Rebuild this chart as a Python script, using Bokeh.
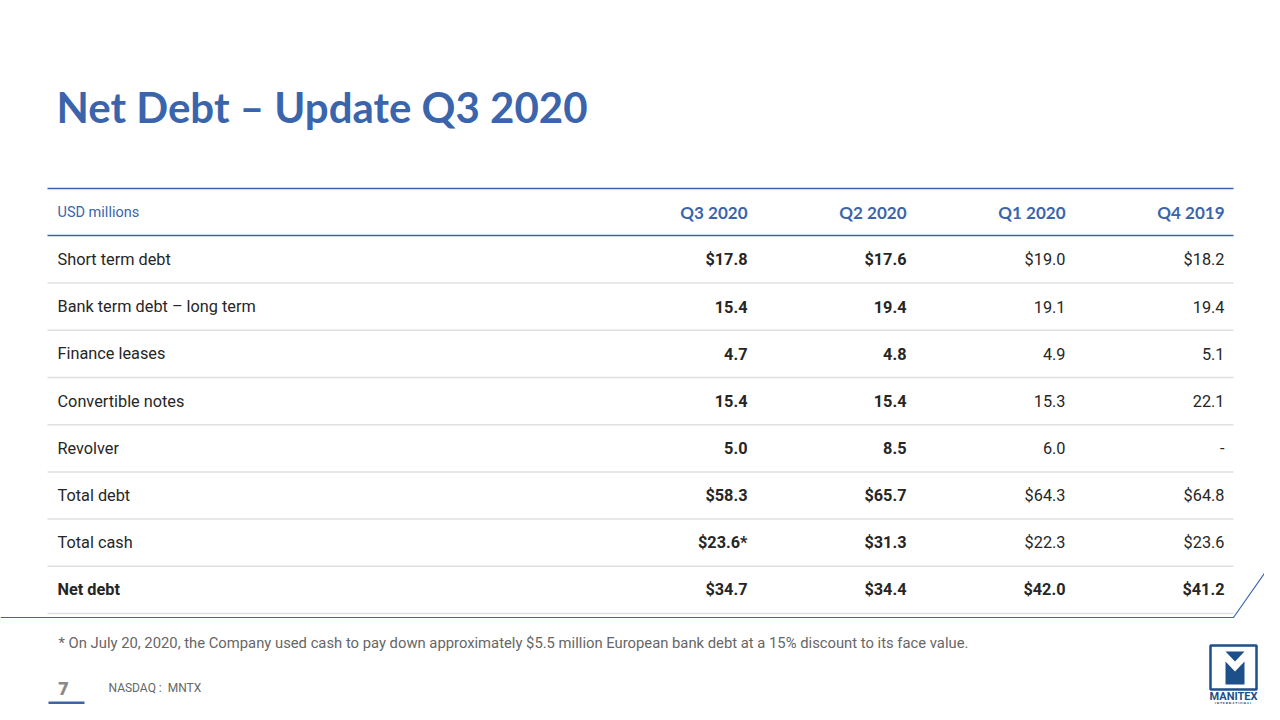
from bokeh.plotting import figure
from bokeh.models import Range1d
from bokeh.core.properties import value
from bokeh.embed import file_html
from bokeh.resources import INLINE

# ---- data ----
title = "Net Debt – Update Q3 2020"
unit_label = "USD millions"
periods = ["Q3 2020", "Q2 2020", "Q1 2020", "Q4 2019"]
row_labels = ["Short term debt", "Bank term debt – long term", "Finance leases",
              "Convertible notes", "Revolver", "Total debt", "Total cash", "Net debt"]
q3_2020 = [17.8, 15.4, 4.7, 15.4, 5.0, 58.3, 23.6, 34.7]
q2_2020 = [17.6, 19.4, 4.8, 15.4, 8.5, 65.7, 31.3, 34.4]
q1_2020 = [19.0, 19.1, 4.9, 15.3, 6.0, 64.3, 22.3, 42.0]
q4_2019 = [18.2, 19.4, 5.1, 22.1, None, 64.8, 23.6, 41.2]
dollar_rows = ["Short term debt", "Total debt", "Total cash", "Net debt"]
footnote_marks = {("Total cash", "Q3 2020"): "*"}
footnote = ("* On July 20, 2020, the Company used cash to pay down approximately "
            "$5.5 million European bank debt at a 15% discount to its face value.")
page_number = "7"
ticker = "NASDAQ :\u00a0\u00a0MNTX"

series = [q3_2020, q2_2020, q1_2020, q4_2019]
bold_cols = [True, True, False, False]

# ---- style ----
BLUE = "#3A65AD"
NAVY = "#1D4F8A"
TEXT = "#262626"
GRAY = "#666666"
SEP = "#E0E0E0"
BODY_FONT = value("Roboto")
HEAD_FONT = value("Lato")

W, H = 1264, 704
p = figure(width=W, height=H, output_backend="svg", toolbar_location=None,
           x_range=Range1d(0, W), y_range=Range1d(H, 0),
           min_border=0, outline_line_color=None)
p.axis.visible = False
p.grid.visible = False
p.background_fill_color = "white"
p.border_fill_color = "white"

# title
p.text(x=[56], y=[106], text=[title], text_font=value("Lato"), text_font_style="bold",
       text_font_size="42px", text_color=BLUE, text_baseline="middle", text_align="left")

# table geometry
left, right = 47, 1233
label_x = 57
col_x = [747, 906, 1065, 1224]
top_y, head_y, head_line = 188, 212, 235
row0, step = 259, 47.2

# header lines
p.segment(x0=[left, left], y0=[top_y, head_line], x1=[right, right], y1=[top_y, head_line],
          line_color=BLUE, line_width=1.5)
p.text(x=[label_x], y=[head_y], text=[unit_label], text_font=BODY_FONT, text_font_size="14.5px",
       text_color=BLUE, text_baseline="middle", text_align="left")
p.text(x=col_x, y=[head_y] * 4, text=periods, text_font=HEAD_FONT, text_font_style="bold",
       text_font_size="17px", text_color=BLUE, text_baseline="middle", text_align="right")

# rows
n = len(row_labels)
ys = [row0 + i * step for i in range(n)]
last = n - 1
p.text(x=[label_x] * (n - 1), y=ys[:-1], text=row_labels[:-1], text_font=BODY_FONT,
       text_font_size="16.3px", text_color=TEXT, text_baseline="middle", text_align="left")
p.text(x=[label_x], y=[ys[-1]], text=[row_labels[-1]], text_font=BODY_FONT, text_font_style="bold",
       text_font_size="16.3px", text_color=TEXT, text_baseline="middle", text_align="left")

def fmt(v, label, period):
    if v is None:
        return "-"
    s = f"{v:.1f}"
    if label in dollar_rows:
        s = "$" + s
    return s + footnote_marks.get((label, period), "")

for ci, (per, vals) in enumerate(zip(periods, series)):
    bx, by, bt, rx, ry, rt = [], [], [], [], [], []
    for ri, (lab, v) in enumerate(zip(row_labels, vals)):
        t = fmt(v, lab, per)
        if bold_cols[ci] or ri == last:
            bx.append(col_x[ci]); by.append(ys[ri]); bt.append(t)
        else:
            rx.append(col_x[ci]); ry.append(ys[ri]); rt.append(t)
    if bt:
        p.text(x=bx, y=by, text=bt, text_font=BODY_FONT, text_font_style="bold",
               text_font_size="16.3px", text_color=TEXT, text_baseline="middle", text_align="right")
    if rt:
        p.text(x=rx, y=ry, text=rt, text_font=BODY_FONT, text_font_size="16.3px",
               text_color=TEXT, text_baseline="middle", text_align="right")

sep_y = [y + step / 2 for y in ys]
p.segment(x0=[left] * n, y0=sep_y, x1=[right] * n, y1=sep_y, line_color=SEP, line_width=1.5)

# bottom blue frame line with diagonal
p.line(x=[0, 1233, 1280], y=[617, 617, 550], line_color=BLUE, line_width=1.2)

# footnote
p.text(x=[58], y=[642], text=[footnote], text_font=BODY_FONT, text_font_size="14.8px",
       text_color=GRAY, text_baseline="middle", text_align="left")

# footer
p.text(x=[63], y=[688], text=[page_number], text_font=value("DejaVu Sans"), text_font_style="bold",
       text_font_size="17px", text_color="#8A8A8A", text_baseline="middle", text_align="center")
p.text(x=[108], y=[687], text=[ticker], text_font=BODY_FONT, text_font_size="12px",
       text_color=GRAY, text_baseline="middle", text_align="left")
p.quad(left=[48, 48], right=[84, 84], top=[701, 715], bottom=[704.5, 718.5],
       fill_color=BLUE, line_color=None)

# logo
p.quad(left=[1210], right=[1256], top=[645], bottom=[689], fill_color="white",
       line_color=NAVY, line_width=2.5)
p.patch(x=[1225, 1244, 1234.5], y=[651, 651, 661], fill_color=NAVY, line_color=None)
p.patch(x=[1225, 1234.5, 1244, 1244, 1225], y=[661, 671, 661, 684, 684],
        fill_color=NAVY, line_color=None)
p.text(x=[1233], y=[696], text=["MANITEX"], text_font=value("Roboto"), text_font_style="bold",
       text_font_size="11px", text_color=NAVY, text_baseline="middle", text_align="center")
p.text(x=[1233], y=[703], text=["I N T E R N A T I O N A L"], text_font=value("Roboto"),
       text_font_style="bold", text_font_size="3.5px", text_color=NAVY,
       text_baseline="middle", text_align="center")

open("out.html", "w").write(file_html(p, INLINE))
